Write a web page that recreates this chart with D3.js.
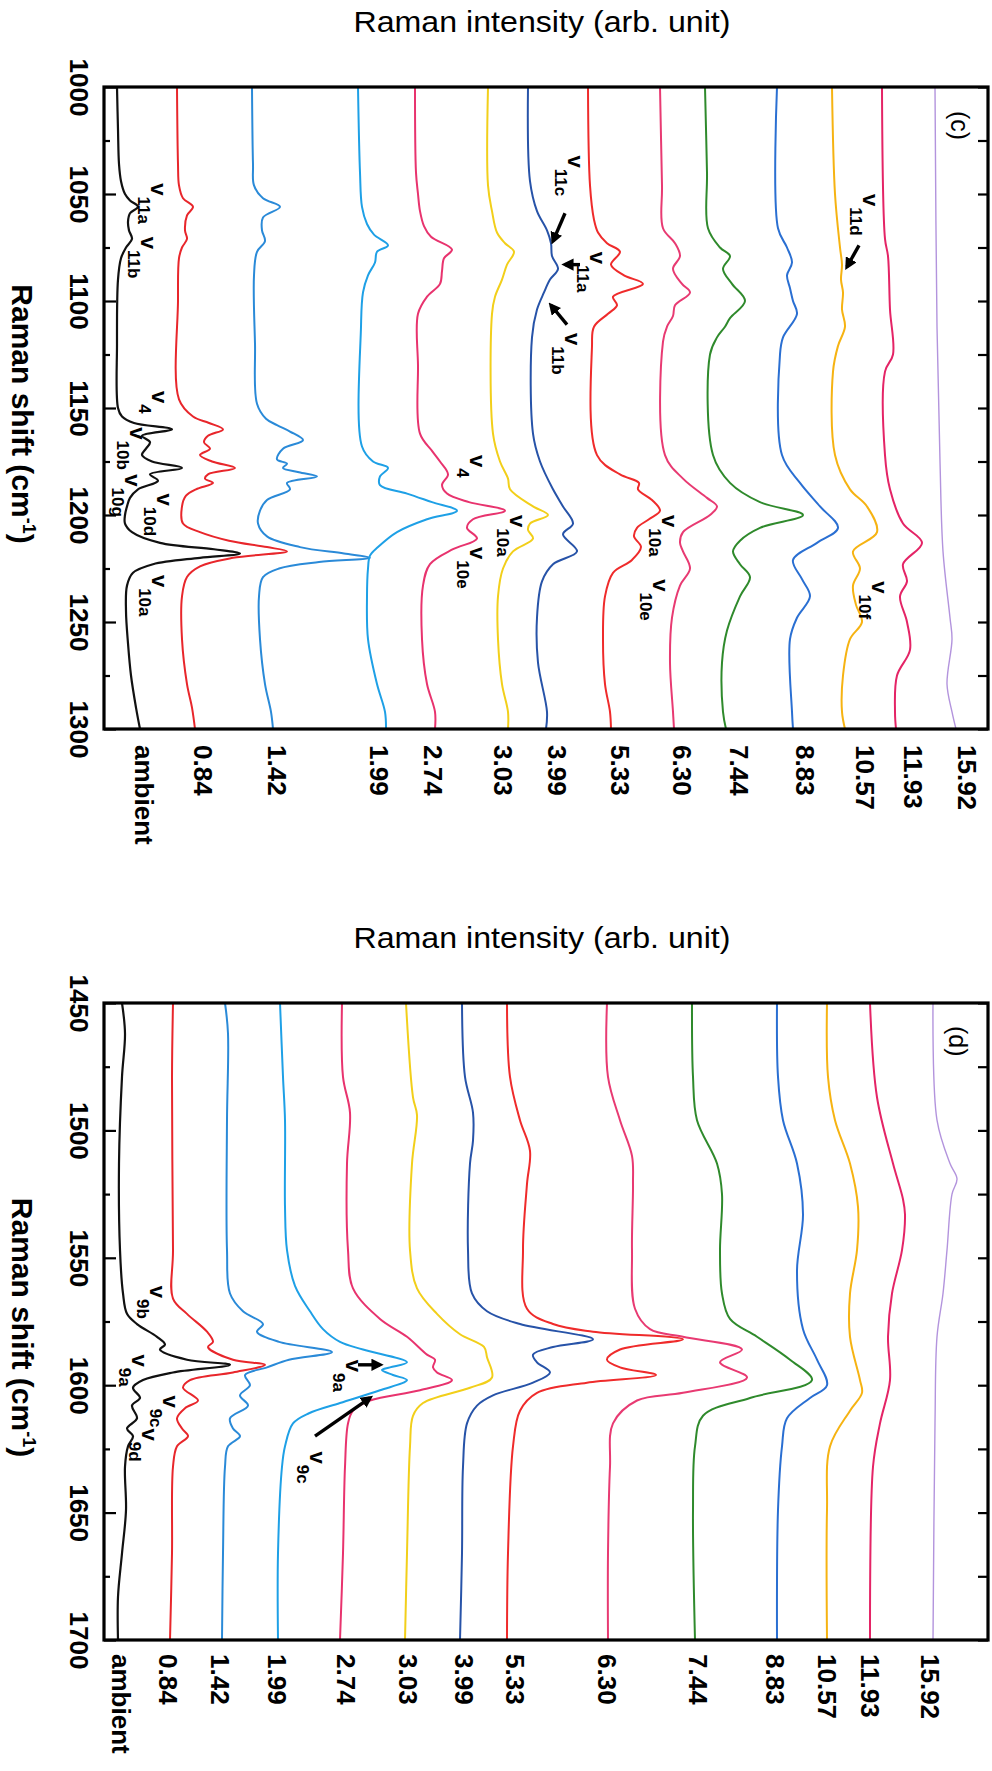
<!DOCTYPE html>
<html>
<head>
<meta charset="utf-8">
<script src="https://cdn.jsdelivr.net/npm/d3@7"></script>
<style>
  body { margin: 0; background: #fff; }
  svg { display: block; }
  svg text { font-family: "Liberation Sans", Arial, Helvetica, sans-serif; }
</style>
</head>
<body>
<svg id="fig" width="992" height="1771"></svg>
<script>
// ---------- pressure labels (GPa) shared by both panels ----------
const pressures = ["ambient", "0.84", "1.42", "1.99", "2.74", "3.03", "3.99",
                   "5.33", "6.30", "7.44", "8.83", "10.57", "11.93", "15.92"];
const lineColors = ["#111111", "#e8262b", "#2a8ad8", "#1ea0e6", "#e8336e", "#f2cf1a", "#2753a8",
                    "#ef2b2b", "#e83a72", "#2f8a2c", "#2a6fd2", "#f6b312", "#e42466", "#b394dd"];

// ---------- panel (c): 1000-1300 cm-1, [shift, intensity (offset, arb.)] ----------
const cAmbient = [[1000,13],[1020,14],[1036,15],[1044,17],[1050,21],[1053,26],[1056,34],[1059,26],[1063,24],[1067,25],[1071,28],[1075,22],[1080,17],[1090,14],[1120,13],[1150,14],[1154,18],[1157,30],[1160,68],[1163,38],[1166,46],[1169,42],[1172,38],[1175,48],[1178,78],[1181,46],[1184,54],[1188,34],[1192,26],[1196,23],[1200,21],[1204,21],[1208,28],[1213,56],[1216,110],[1218,136],[1220,96],[1223,49],[1227,29],[1233,23],[1245,22],[1260,24],[1275,27],[1290,32],[1300,36]];
const c084 = [[1000,73],[1036,74],[1046,75],[1052,79],[1056,89],[1060,83],[1067,81],[1071,83],[1075,78],[1080,75],[1100,74],[1146,75],[1154,89],[1157,105],[1160,119],[1163,104],[1166,100],[1169,106],[1172,96],[1175,108],[1178,131],[1181,104],[1183,101],[1185,109],[1188,92],[1191,82],[1196,78],[1204,79],[1208,96],[1212,125],[1215,163],[1217,183],[1220,129],[1224,96],[1229,83],[1238,78],[1258,78],[1279,83],[1290,88],[1300,91]];
const c142 = [[1000,148],[1036,149],[1046,150],[1052,159],[1056,176],[1061,159],[1067,158],[1072,161],[1077,153],[1088,150],[1120,151],[1148,153],[1155,162],[1158,173],[1161,186],[1165,199],[1169,179],[1174,173],[1176,183],[1178,179],[1180,195],[1182,213],[1185,183],[1188,186],[1193,163],[1198,156],[1204,154],[1210,163],[1215,196],[1218,240],[1220,266],[1222,215],[1225,175],[1229,159],[1238,155],[1258,156],[1279,161],[1292,167],[1300,169]];
const c199 = [[1000,254],[1040,256],[1056,258],[1064,263],[1069,270],[1074,284],[1077,273],[1082,271],[1088,264],[1096,259],[1112,257],[1168,258],[1175,269],[1178,284],[1182,276],[1186,276],[1190,303],[1194,328],[1198,353],[1202,323],[1208,293],[1215,274],[1219,266],[1225,264],[1238,263],[1258,264],[1279,273],[1292,281],[1300,282]];
const c274 = [[1000,311],[1040,312],[1050,314],[1058,316],[1065,320],[1070,327],[1076,348],[1080,340],[1086,338],[1092,336],[1098,323],[1106,314],[1130,314],[1162,316],[1170,328],[1175,336],[1181,344],[1186,338],[1190,343],[1194,365],[1198,401],[1202,369],[1206,363],[1211,373],[1216,349],[1223,326],[1233,319],[1258,318],[1279,323],[1292,331],[1300,331]];
const c303 = [[1000,384],[1046,384],[1058,388],[1068,393],[1073,401],[1077,410],[1083,403],[1090,398],[1098,391],[1106,388],[1162,389],[1175,396],[1183,404],[1188,406],[1196,429],[1200,444],[1204,426],[1207,424],[1211,429],[1217,409],[1225,399],[1238,394],[1258,394],[1279,398],[1292,404],[1300,404]];
const c399 = [[1000,424],[1044,426],[1058,433],[1067,443],[1073,447],[1079,448],[1085,454],[1090,446],[1096,440],[1104,433],[1117,428],[1162,429],[1175,436],[1188,449],[1196,459],[1204,469],[1209,459],[1217,473],[1223,449],[1231,438],[1248,433],[1269,434],[1292,443],[1300,442]];
const c533 = [[1000,484],[1046,486],[1062,490],[1068,494],[1073,503],[1077,516],[1083,507],[1088,520],[1092,539],[1098,509],[1102,513],[1106,504],[1112,490],[1121,488],[1172,493],[1181,516],[1185,535],[1188,534],[1193,548],[1198,556],[1202,545],[1206,533],[1210,530],[1215,537],[1221,528],[1227,509],[1238,501],[1258,499],[1279,501],[1292,506],[1300,507]];
const c630 = [[1000,556],[1046,558],[1066,559],[1073,571],[1079,576],[1085,569],[1092,578],[1096,586],[1102,571],[1107,569],[1112,563],[1119,559],[1172,561],[1183,579],[1192,603],[1196,613],[1200,606],[1208,579],[1213,576],[1217,579],[1225,586],[1233,576],[1248,568],[1269,566],[1292,569],[1300,570]];
const c744 = [[1000,601],[1040,603],[1066,604],[1075,616],[1079,626],[1085,619],[1092,628],[1100,641],[1108,626],[1112,621],[1117,613],[1125,606],[1172,609],[1185,626],[1194,656],[1200,699],[1206,656],[1212,636],[1217,629],[1223,636],[1229,646],[1238,636],[1254,623],[1269,618],[1292,619],[1300,622]];
const c883 = [[1000,673],[1066,674],[1075,683],[1082,688],[1088,683],[1094,686],[1100,689],[1106,693],[1117,679],[1125,676],[1172,678],[1185,696],[1196,716],[1206,734],[1213,713],[1221,689],[1230,698],[1238,706],[1248,693],[1258,686],[1292,688],[1300,689]];
const c1057 = [[1000,728],[1050,731],[1075,736],[1083,738],[1090,737],[1096,739],[1104,738],[1112,741],[1121,734],[1133,729],[1172,731],[1188,746],[1196,763],[1208,773],[1217,749],[1225,756],[1233,749],[1242,752],[1250,758],[1258,746],[1275,739],[1292,738],[1300,741]];
const c1193 = [[1000,778],[1071,781],[1079,784],[1104,786],[1125,789],[1133,781],[1172,781],[1188,786],[1204,799],[1213,818],[1223,799],[1231,803],[1238,796],[1250,803],[1263,806],[1275,793],[1292,791],[1300,792]];
const c1592 = [[1000,831],[1112,833],[1175,836],[1217,839],[1248,846],[1258,848],[1279,843],[1292,848],[1300,852]];

// ---------- panel (d): 1450-1700 cm-1 ----------
const dAmbient = [[1450,18],[1462,21],[1479,18],[1513,15],[1547,16],[1564,19],[1572,23],[1576,33],[1581,53],[1584,61],[1586,56],[1590,83],[1592,126],[1595,69],[1598,39],[1601,29],[1605,36],[1608,28],[1613,33],[1617,23],[1620,29],[1624,24],[1632,21],[1649,22],[1666,18],[1683,14],[1700,14]];
const d084 = [[1450,69],[1479,68],[1547,69],[1566,69],[1572,83],[1579,103],[1583,109],[1585,104],[1590,129],[1592,161],[1595,129],[1598,86],[1601,79],[1606,94],[1609,81],[1613,73],[1617,78],[1620,84],[1624,73],[1632,69],[1666,68],[1700,66]];
const d142 = [[1450,121],[1462,124],[1496,123],[1547,123],[1564,126],[1571,139],[1576,159],[1579,153],[1583,175],[1587,228],[1590,185],[1593,163],[1596,141],[1600,146],[1604,136],[1608,144],[1613,126],[1617,129],[1620,136],[1624,124],[1632,121],[1666,119],[1700,118]];
const d199 = [[1450,176],[1479,179],[1496,181],[1530,181],[1547,183],[1561,191],[1571,206],[1578,219],[1583,236],[1586,259],[1591,303],[1593,286],[1594,278],[1596,289],[1598,303],[1602,276],[1607,236],[1611,205],[1615,189],[1624,181],[1632,178],[1666,174],[1700,174]];
const d274 = [[1450,238],[1479,239],[1493,246],[1513,243],[1547,244],[1562,249],[1574,276],[1581,303],[1588,323],[1590,331],[1593,329],[1595,333],[1598,348],[1602,316],[1606,266],[1610,249],[1615,244],[1632,241],[1666,239],[1700,236]];
const d303 = [[1450,302],[1487,309],[1494,313],[1513,308],[1547,306],[1562,313],[1572,333],[1580,356],[1585,380],[1589,383],[1597,388],[1601,366],[1607,319],[1612,309],[1624,306],[1666,303],[1700,301]];
const d399 = [[1450,358],[1479,361],[1493,369],[1504,369],[1513,366],[1547,364],[1564,368],[1571,383],[1576,416],[1582,489],[1585,449],[1588,429],[1591,433],[1595,446],[1599,429],[1604,389],[1608,373],[1615,363],[1632,359],[1666,358],[1700,356]];
const d533 = [[1450,403],[1479,406],[1496,416],[1508,426],[1521,423],[1547,419],[1570,423],[1576,449],[1579,489],[1582,579],[1586,516],[1590,503],[1593,516],[1596,552],[1599,483],[1603,433],[1610,416],[1624,409],[1666,404],[1700,403]];
const d630 = [[1450,503],[1479,504],[1496,516],[1510,528],[1521,529],[1547,528],[1570,531],[1578,546],[1581,579],[1586,638],[1591,616],[1597,643],[1603,579],[1606,533],[1615,509],[1632,506],[1666,504],[1700,504]];
const d744 = [[1450,588],[1479,589],[1496,593],[1513,613],[1525,618],[1547,616],[1564,618],[1574,626],[1581,653],[1590,686],[1598,708],[1605,646],[1612,599],[1624,591],[1649,589],[1700,591]];
const d883 = [[1450,673],[1479,674],[1496,679],[1513,693],[1533,699],[1555,693],[1578,699],[1590,713],[1600,723],[1605,706],[1613,683],[1624,678],[1649,674],[1700,673]];
const d1057 = [[1450,723],[1479,724],[1496,731],[1513,746],[1530,754],[1547,753],[1564,746],[1581,746],[1598,756],[1603,758],[1610,746],[1624,726],[1649,723],[1700,723]];
const d1193 = [[1450,766],[1487,773],[1513,789],[1527,799],[1533,801],[1547,798],[1564,788],[1581,784],[1598,786],[1615,776],[1632,769],[1700,766]];
const d1592 = [[1450,829],[1496,833],[1513,846],[1519,853],[1525,848],[1547,843],[1564,839],[1581,833],[1615,831],[1700,829]];

// ---------- mode assignments: [subscript, shift, intensity] ----------
const notesC = [["11a",1045,47],["11b",1070,37],["4",1142,48],["10b",1159,26],["10g",1181,21],
                ["10d",1190,53],["10a",1228,48],["11c",1032,464],["11a",1077,486],["11b",1115,461],
                ["4",1172,366],["10a",1200,406],["10e",1215,366],["10e",1230,549],["10a",1200,558],
                ["11d",1050,759],["10f",1231,768]];
const arrowsC = [[1059,461,1072,449],[1083,476,1083,461],[1111,463,1102,447],[1074,755,1084,743]];
const notesD = [["9b",1561,46],["9a",1588,28],["9c",1604,59],["9d",1617,38],["9a",1590,242],["9c",1626,206]];
const arrowsD = [[1592,254,1592,276],[1620,211,1605,266]];

const intensityDomain = [0, 884];

// ---------- layout ----------
const svg = d3.select("#fig");
const frameLeft = 104, frameRight = 988;
const FONT = "Liberation Sans, Arial, Helvetica, sans-serif";

svg.append("defs").append("marker")
  .attr("id", "head").attr("viewBox", "0 0 10 10")
  .attr("refX", 7).attr("refY", 5)
  .attr("markerWidth", 3.6).attr("markerHeight", 3.6)
  .attr("orient", "auto")
  .append("path").attr("d", "M0,0L10,5L0,10z").attr("fill", "#000");

const panels = [
  { top: 87, bottom: 729, domain: [1000, 1300], tag: "(c)", tagAt: [1018, 856],
    series: [cAmbient, c084, c142, c199, c274, c303, c399, c533, c630, c744, c883, c1057, c1193, c1592],
    notes: notesC, arrows: arrowsC, labelGap: 16,
    labelNudge: [4, 8, 4, -7, -2, -5, 11, 9, 8, 13, 12, 20, 17, 11] },
  { top: 1003, bottom: 1640, domain: [1450, 1700], tag: "(d)", tagAt: [1465, 854],
    series: [dAmbient, d084, d142, d199, d274, d303, d399, d533, d630, d744, d883, d1057, d1193, d1592],
    notes: notesD, arrows: arrowsD, labelGap: 14,
    labelNudge: [3, -2, -2, -1, 6, 3, 4, 8, -1, 3, -2, 0, 0, -3] }
];

panels.forEach(drawPanel);

function drawPanel(p) {
  const w = p.bottom - p.top;          // length of the Raman-shift axis (drawn vertically)
  const h = frameRight - frameLeft;    // length of the intensity axis (drawn horizontally)
  // The spectra are laid out as a conventional plot, then turned a quarter turn clockwise.
  const g = svg.append("g").attr("transform", `translate(${frameRight},${p.top}) rotate(90)`);

  const x = d3.scaleLinear().domain(p.domain).range([0, w]);
  const y = d3.scaleLinear().domain(intensityDomain).range([h, 0]);

  const major = d3.range(p.domain[0], p.domain[1] + 1, 50);
  const minor = d3.range(p.domain[0] + 25, p.domain[1], 50);
  const all = d3.range(p.domain[0], p.domain[1] + 1, 25);

  // spectra
  const line = d3.line().x(d => x(d[0])).y(d => y(d[1])).curve(d3.curveCatmullRom.alpha(0.5));
  g.append("g").selectAll("path")
    .data(p.series)
    .join("path")
    .attr("d", d => line(d))
    .attr("fill", "none")
    .attr("stroke", (d, i) => lineColors[i])
    .attr("stroke-width", (d, i) => i === 0 ? 2.2 : (i === 13 ? 1.4 : 2))
    .attr("stroke-linejoin", "round");

  // shift axis with labelled major ticks, plain ticks on the opposite side
  const axMajor = g.append("g").attr("transform", `translate(0,${h})`)
    .call(d3.axisBottom(x).tickValues(major).tickSizeInner(-12).tickSizeOuter(0)
      .tickPadding(16).tickFormat(d3.format("d")));
  const axMinor = g.append("g").attr("transform", `translate(0,${h})`)
    .call(d3.axisBottom(x).tickValues(minor).tickSizeInner(-6).tickSizeOuter(0).tickFormat(""));
  const axOpp = g.append("g")
    .call(d3.axisTop(x).tickValues(all).tickSizeInner(-10).tickSizeOuter(0).tickFormat(""));
  [axMajor, axMinor, axOpp].forEach(a => {
    a.select(".domain").remove();
    a.selectAll(".tick line").attr("stroke", "#000").attr("stroke-width", 2.2);
  });
  axMajor.selectAll(".tick text")
    .attr("fill", "#000").attr("font-size", 26).attr("font-weight", "bold")
    .attr("font-family", FONT);

  // frame
  g.append("rect").attr("x", 0).attr("y", 0).attr("width", w).attr("height", h)
    .attr("fill", "none").attr("stroke", "#000").attr("stroke-width", 3.2);

  // axis titles
  const xt = g.append("text")
    .attr("x", w / 2 + 6).attr("y", h + 872 - h + 104)
    .attr("text-anchor", "middle").attr("font-size", 30).attr("font-weight", "bold")
    .attr("font-family", FONT).attr("fill", "#000");
  xt.append("tspan").text("Raman shift (cm");
  xt.append("tspan").attr("font-size", 18).attr("dy", -11).text("-1");
  xt.append("tspan").attr("dy", 11).text(")");

  g.append("text")
    .attr("transform", `translate(-55,${h - (542 - frameLeft)}) rotate(-90)`)
    .attr("text-anchor", "middle").attr("font-size", 30).attr("font-family", FONT).attr("fill", "#000")
    .attr("textLength", 377).attr("lengthAdjust", "spacingAndGlyphs")
    .text("Raman intensity (arb. unit)");

  // pressure labels at the end of each trace
  g.append("g").selectAll("text")
    .data(p.series)
    .join("text")
    .attr("x", w + p.labelGap)
    .attr("y", (d, i) => y(d[d.length - 1][1] + p.labelNudge[i]))
    .attr("dy", "0.36em")
    .attr("font-size", 26).attr("font-weight", "bold").attr("font-family", FONT).attr("fill", "#000")
    .text((d, i) => pressures[i]);

  // mode labels (nu with subscript)
  const nt = g.append("g").selectAll("text")
    .data(p.notes)
    .join("text")
    .attr("x", d => x(d[1])).attr("y", d => y(d[2]))
    .attr("font-size", 22).attr("font-weight", "bold").attr("font-family", FONT).attr("fill", "#000");
  nt.append("tspan").text("v");
  nt.append("tspan").attr("font-size", 17).attr("dy", 13).attr("dx", 1).text(d => d[0]);

  // arrows
  g.append("g").selectAll("line")
    .data(p.arrows)
    .join("line")
    .attr("x1", d => x(d[0])).attr("y1", d => y(d[1]))
    .attr("x2", d => x(d[2])).attr("y2", d => y(d[3]))
    .attr("stroke", "#000").attr("stroke-width", 3.4)
    .attr("marker-end", "url(#head)");

  // panel tag
  g.append("text")
    .attr("x", x(p.tagAt[0])).attr("y", y(p.tagAt[1]))
    .attr("text-anchor", "middle").attr("dominant-baseline", "central")
    .attr("font-size", 25).attr("font-family", FONT).attr("fill", "#000")
    .text(p.tag);
}
</script>
</body>
</html>
